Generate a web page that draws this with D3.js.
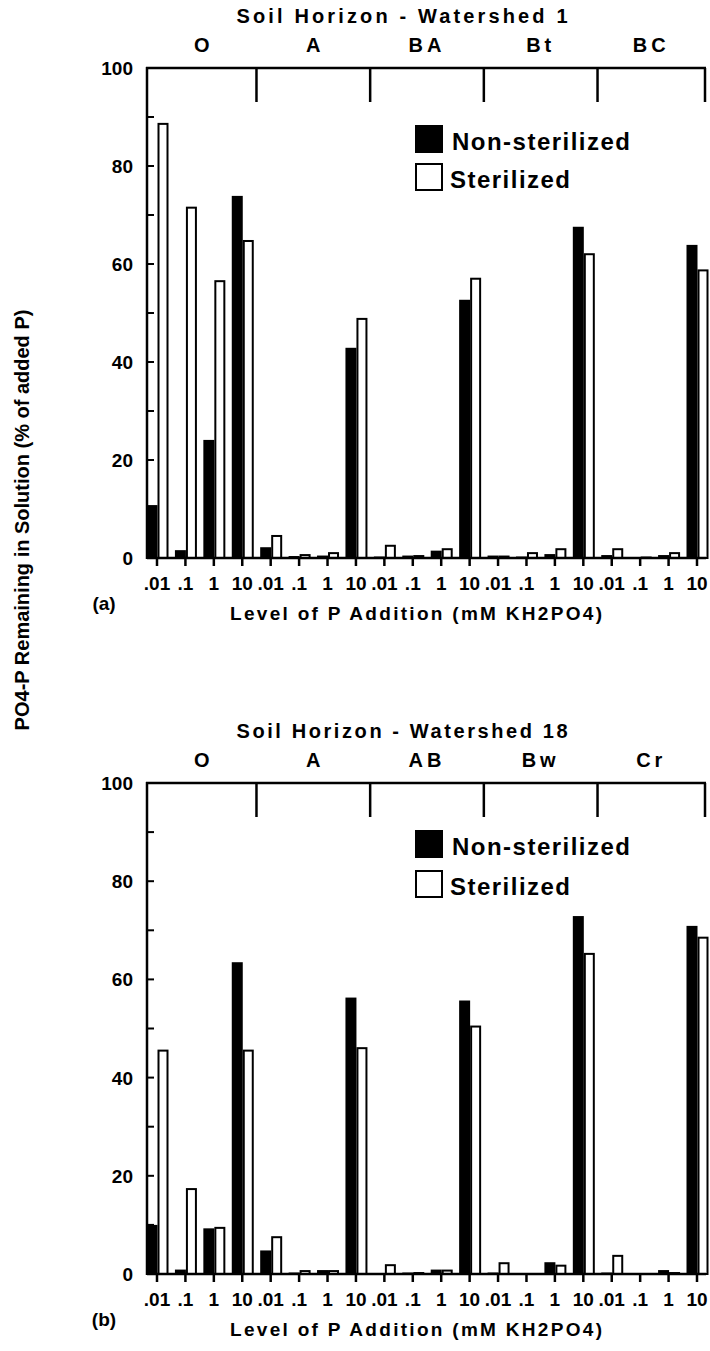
<!DOCTYPE html>
<html><head><meta charset="utf-8">
<script src="https://cdn.jsdelivr.net/npm/d3@7/dist/d3.min.js"></script>
<style>
body{margin:0;background:#fff}
text{font-family:"Liberation Sans",Arial,Helvetica,sans-serif;font-weight:bold;fill:#000}
</style>
</head><body>
<svg id="chart" width="710" height="1351"></svg>
<script>
// ---- data ----
const levels = [".01", ".1", "1", "10"];
const horizonsWS1 = ["O", "A", "BA", "Bt", "BC"];
const horizonsWS18 = ["O", "A", "AB", "Bw", "Cr"];
// values in % of added P, ordered horizon by horizon, .01 / .1 / 1 / 10
const nonSterilizedWS1 = [10.8, 1.6, 24.1, 73.9, 2.2, 0.4, 0.5, 42.9, 0.3, 0.5, 1.5, 52.7, 0.5, 0.3, 0.8, 67.6, 0.6, 0.2, 0.6, 63.9];
const sterilizedWS1    = [88.8, 71.7, 56.7, 64.9, 4.7, 0.8, 1.2, 49.0, 2.7, 0.6, 2.0, 57.2, 0.5, 1.2, 2.0, 62.2, 2.0, 0.3, 1.2, 58.9];
const nonSterilizedWS18 = [10.0, 0.9, 9.3, 63.5, 4.8, 0.3, 0.8, 56.3, 0.2, 0.3, 0.9, 55.7, 0.3, 0.1, 2.4, 72.9, 0.3, 0.1, 0.8, 70.9];
const sterilizedWS18    = [45.7, 17.5, 9.6, 45.7, 7.7, 0.8, 0.8, 46.2, 2.0, 0.4, 0.9, 50.6, 2.4, 0.1, 1.9, 65.4, 3.9, 0.1, 0.4, 68.7];
const seriesNames = ["Non-sterilized", "Sterilized"];
const yTickLabels = [0, 20, 40, 60, 80, 100];
const xTitle = "Level of P Addition (mM KH2PO4)";
const yTitle = "PO4-P Remaining in Solution (% of added P)";

// ---- layout ----
const svg = d3.select("#chart");
const X0 = 147, X1 = 705;
const panels = [
  {top: 68, base: 558, title: "Soil Horizon - Watershed 1", horizons: horizonsWS1,
   non: nonSterilizedWS1, ster: sterilizedWS1, tag: "(a)", legendTop: 125, legendGap: 38},
  {top: 783, base: 1274, title: "Soil Horizon - Watershed 18", horizons: horizonsWS18,
   non: nonSterilizedWS18, ster: sterilizedWS18, tag: "(b)", legendTop: 830, legendGap: 40}
];

panels.forEach(p => {
  const g = svg.append("g");
  const cats = d3.cross(p.horizons, levels).map(([h, l]) => h + "|" + l);
  const x = d3.scalePoint().domain(cats).range([157, 697]);
  const pair = d3.scaleBand().domain(seriesNames).range([-10.5, 11.5]);
  const y = d3.scaleLinear().domain([0, 100]).range([p.base, p.top]);

  const rows = cats.map((c, i) => ({c, non: p.non[i], ster: p.ster[i]}));

  // bars: non-sterilized (solid)
  g.selectAll("rect.non").data(rows).join("rect")
    .attr("x", d => x(d.c) + pair("Non-sterilized"))
    .attr("width", pair.bandwidth())
    .attr("y", d => y(d.non))
    .attr("height", d => y(0) - y(d.non))
    .attr("fill", "#000");
  // bars: sterilized (open)
  g.selectAll("rect.ster").data(rows).join("rect")
    .attr("x", d => x(d.c) + pair("Sterilized") + 1)
    .attr("width", pair.bandwidth() - 2)
    .attr("y", d => y(d.ster) + 1)
    .attr("height", d => Math.max(0, y(0) - y(d.ster) - 1))
    .attr("fill", "#fff").attr("stroke", "#000").attr("stroke-width", 2);

  // y axis line + inward ticks
  g.append("line").attr("x1", X0).attr("x2", X0).attr("y1", y(100) - 1).attr("y2", y(0) + 1)
    .attr("stroke", "#000").attr("stroke-width", 2.5);
  g.selectAll("line.yt").data(y.ticks(10).filter(v => v > 0 && v < 100)).join("line")
    .attr("x1", X0).attr("x2", X0 + 7).attr("y1", d => y(d)).attr("y2", d => y(d))
    .attr("stroke", "#000").attr("stroke-width", 2);
  g.selectAll("text.yl").data(yTickLabels).join("text")
    .attr("x", 133).attr("y", d => y(d) + 7).attr("text-anchor", "end")
    .attr("font-size", 19).text(d => d);

  // baseline + downward ticks + labels
  g.append("line").attr("x1", X0).attr("x2", X1 + 1).attr("y1", y(0)).attr("y2", y(0))
    .attr("stroke", "#000").attr("stroke-width", 2.5);
  g.selectAll("line.xt").data(cats).join("line")
    .attr("x1", d => x(d)).attr("x2", d => x(d)).attr("y1", y(0)).attr("y2", y(0) + 8)
    .attr("stroke", "#000").attr("stroke-width", 2.5);
  g.selectAll("text.xl").data(cats).join("text")
    .attr("x", d => x(d)).attr("y", y(0) + 32).attr("text-anchor", "middle")
    .attr("font-size", 19).text(d => d.split("|")[1]);

  // top frame with horizon dividers
  g.append("line").attr("x1", X0 - 1).attr("x2", X1 + 1).attr("y1", y(100)).attr("y2", y(100))
    .attr("stroke", "#000").attr("stroke-width", 2.5);
  const bounds = [X0];
  p.horizons.forEach((h, i) => {
    if (i < p.horizons.length - 1) {
      bounds.push((x(h + "|10") + x(p.horizons[i + 1] + "|.01")) / 2);
    }
  });
  bounds.push(X1);
  g.selectAll("line.div").data(bounds.slice(1)).join("line")
    .attr("x1", d => d).attr("x2", d => d).attr("y1", y(100)).attr("y2", y(100) + 34)
    .attr("stroke", "#000").attr("stroke-width", 2.5);
  g.selectAll("text.hz").data(p.horizons).join("text")
    .attr("x", (d, i) => (bounds[i] + bounds[i + 1]) / 2)
    .attr("y", y(100) - 16).attr("text-anchor", "middle")
    .attr("font-size", 20).attr("letter-spacing", d => d.length > 1 ? 4 : 0).text(d => d);

  // panel title
  g.append("text").attr("x", 402).attr("y", y(100) - 45).attr("text-anchor", "middle")
    .attr("font-size", 20).attr("textLength", 331).attr("lengthAdjust", "spacing").text(p.title);

  // x title and panel tag
  g.append("text").attr("x", 416).attr("y", y(0) + 62).attr("text-anchor", "middle")
    .attr("font-size", 19).attr("textLength", 372).attr("lengthAdjust", "spacing").text(xTitle);
  g.append("text").attr("x", 104).attr("y", y(0) + 52).attr("text-anchor", "middle")
    .attr("font-size", 19).text(p.tag);

  // legend
  const lg = g.append("g");
  seriesNames.forEach((s, i) => {
    const ty = p.legendTop + i * p.legendGap;
    lg.append("rect").attr("x", 415 + (i ? 1 : 0)).attr("y", ty + (i ? 1 : 0))
      .attr("width", i ? 26 : 28).attr("height", i ? 26 : 28)
      .attr("fill", i ? "#fff" : "#000").attr("stroke", "#000").attr("stroke-width", i ? 2 : 0);
    lg.append("text").attr("x", i ? 450 : 452).attr("y", ty + 25)
      .attr("font-size", 24).attr("textLength", i ? 120 : 178).attr("lengthAdjust", "spacing").text(s);
  });
});

// shared y title
svg.append("text").attr("transform", "translate(29,520) rotate(-90)")
  .attr("text-anchor", "middle").attr("font-size", 20).text(yTitle);
</script>
</body></html>
